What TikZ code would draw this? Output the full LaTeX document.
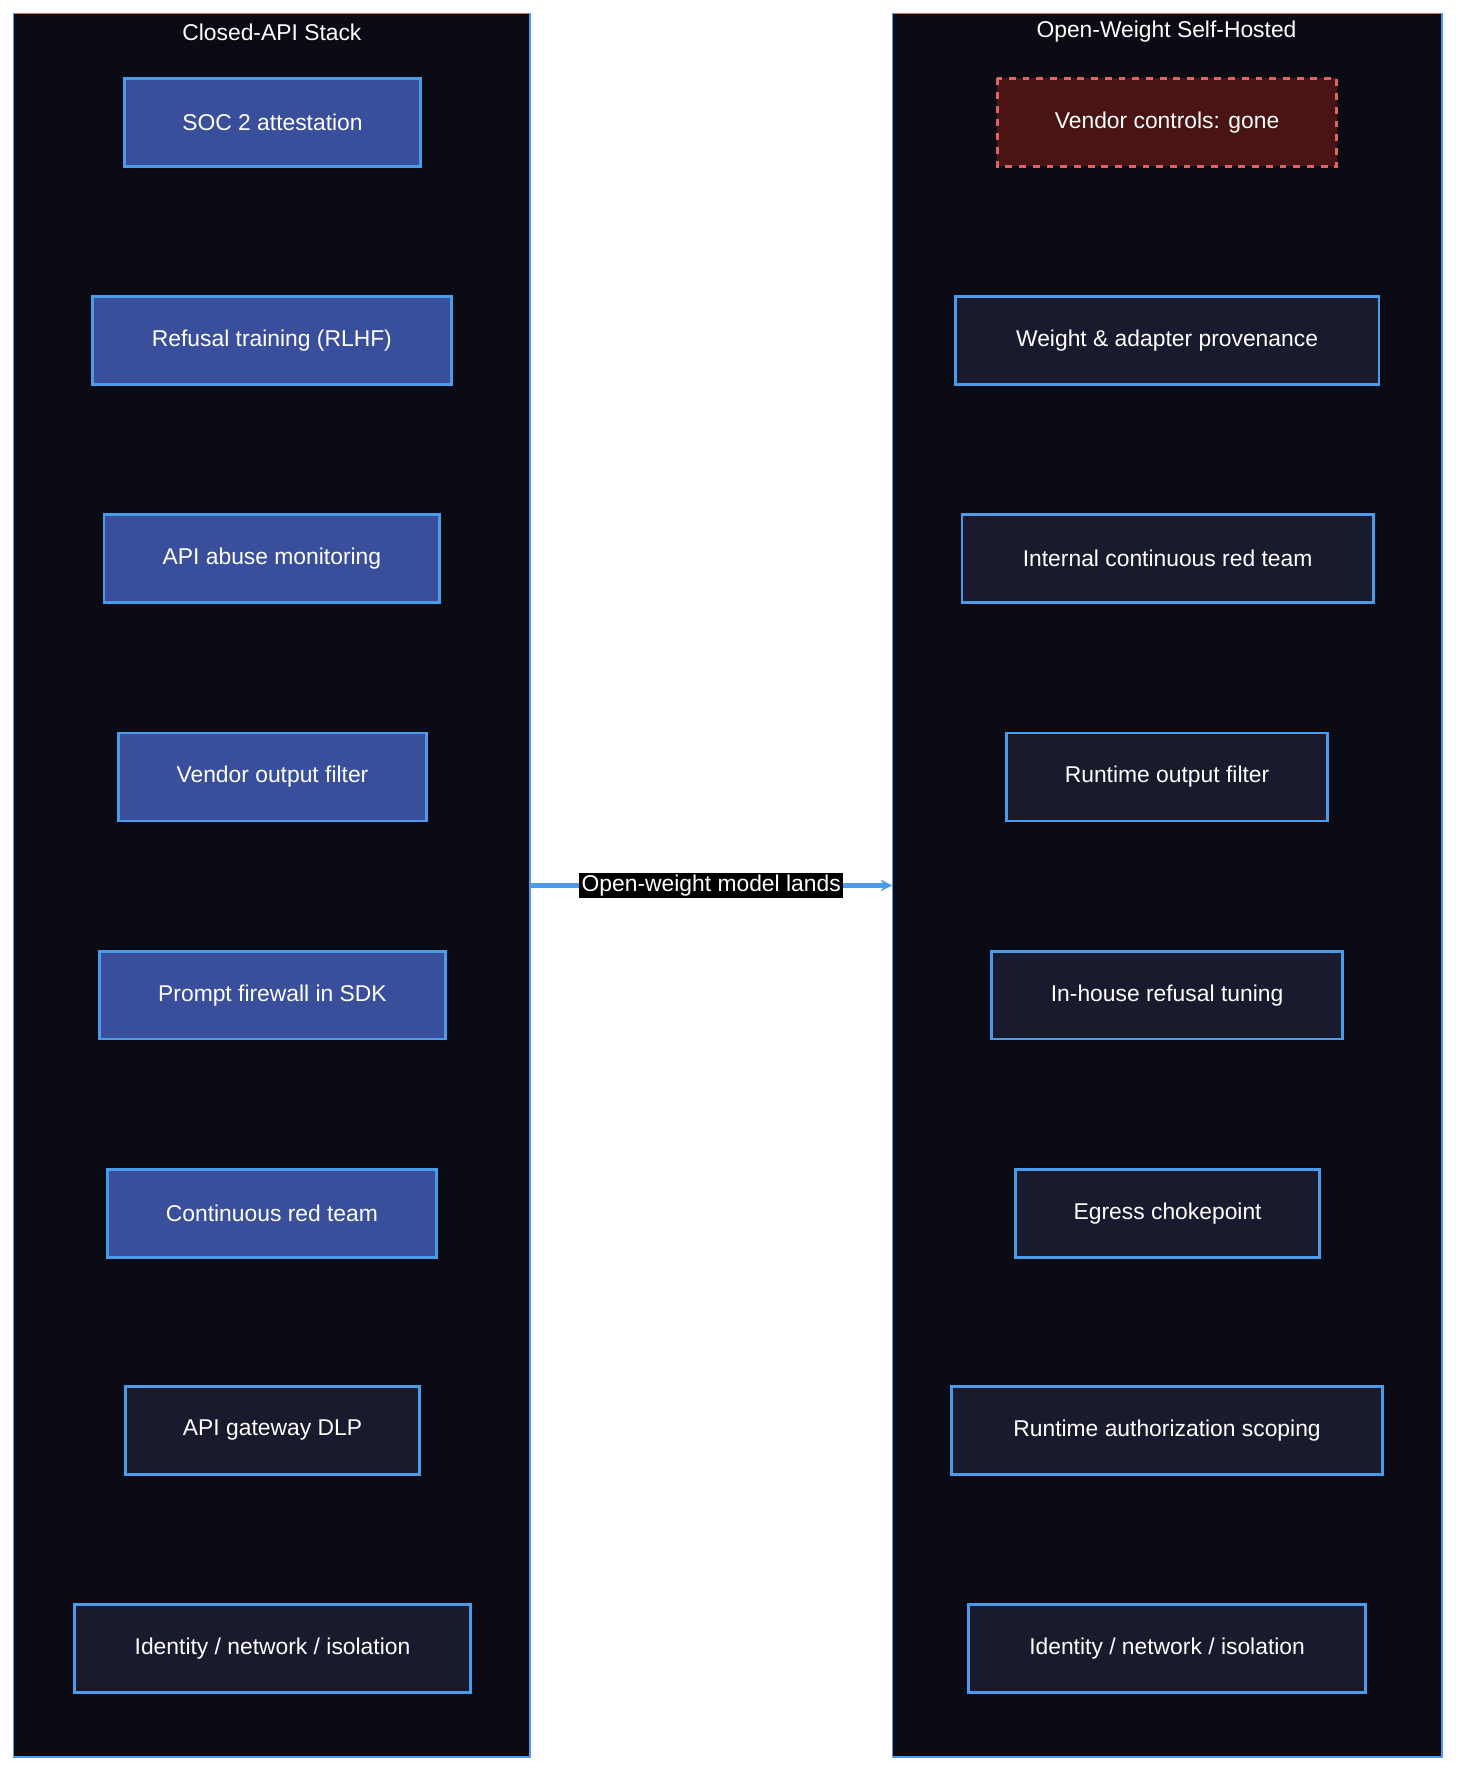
\documentclass[tikz,border=0pt]{standalone}
\usepackage{fontspec}
\setmainfont{Liberation Sans}
\usetikzlibrary{arrows.meta}
\definecolor{panel}{HTML}{0A0B14}
\definecolor{edge}{HTML}{4A9BEA}
\definecolor{bluefill}{HTML}{3A4F9B}
\definecolor{darkfill}{HTML}{1A1A2E}
\definecolor{redfill}{HTML}{4A1414}
\definecolor{reddash}{HTML}{E06464}
\begin{document}
\begin{tikzpicture}[x=0.5pt,y=-0.5pt,
  txt/.style={font=\fontsize{10}{12}\selectfont,text=white},
  panelbox/.style={draw=edge,fill=panel,line width=0.6pt},
  bbox/.style={draw=edge,fill=bluefill,line width=1.2pt,txt},
  dbox/.style={draw=edge,fill=darkfill,line width=1.2pt,txt},
  rbox/.style={draw=reddash,fill=redfill,dashed,line width=1.2pt,txt}]
\useasboundingbox (0,0) rectangle (1275,1551);
\fill[white] (0,0) rectangle (1275,1551);
\draw[panelbox] (12,12) rectangle (464,1538);
\draw[panelbox] (781,12) rectangle (1262,1538);
\coordinate (L) at (464,775);
\coordinate (R) at (781,775);
\node[txt] (t1) at (238,28) {Closed-API Stack};
\node[txt] (t2) at (1021,28) {Open-Weight Self-Hosted};
\newcommand{\bx}[5]{\draw[#1] (#2,#4-38.5) rectangle node (#1#4#2) {#5} (#3,#4+38.5);}
\bx{bbox}{109}{368}{107}{SOC 2 attestation}
\bx{bbox}{81}{395}{298}{Refusal training (RLHF)}
\bx{bbox}{91}{385}{489}{API abuse monitoring}
\bx{bbox}{104}{373}{680}{Vendor output filter}
\bx{bbox}{87}{390}{871}{Prompt firewall in SDK}
\bx{bbox}{94}{382}{1062}{Continuous red team}
\bx{dbox}{110}{367}{1252}{API gateway DLP}
\bx{dbox}{65}{412}{1443}{Identity / network / isolation}
\bx{rbox}{873}{1170}{107}{Vendor controls: gone}
\bx{dbox}{836}{1207}{298}{Weight \& adapter provenance}
\bx{dbox}{842}{1202}{489}{Internal continuous red team}
\bx{dbox}{881}{1162}{680}{Runtime output filter}
\bx{dbox}{868}{1175}{871}{In-house refusal tuning}
\bx{dbox}{889}{1155}{1062}{Egress chokepoint}
\bx{dbox}{833}{1210}{1252}{Runtime authorization scoping}
\bx{dbox}{848}{1195}{1443}{Identity / network / isolation}
\draw[edge,line width=2pt,-{Stealth[length=5pt,width=5pt]}] (L) -- node[fill=black,txt,inner sep=1pt] (lab) {Open-weight model lands} (R);
\end{tikzpicture}
\end{document}
